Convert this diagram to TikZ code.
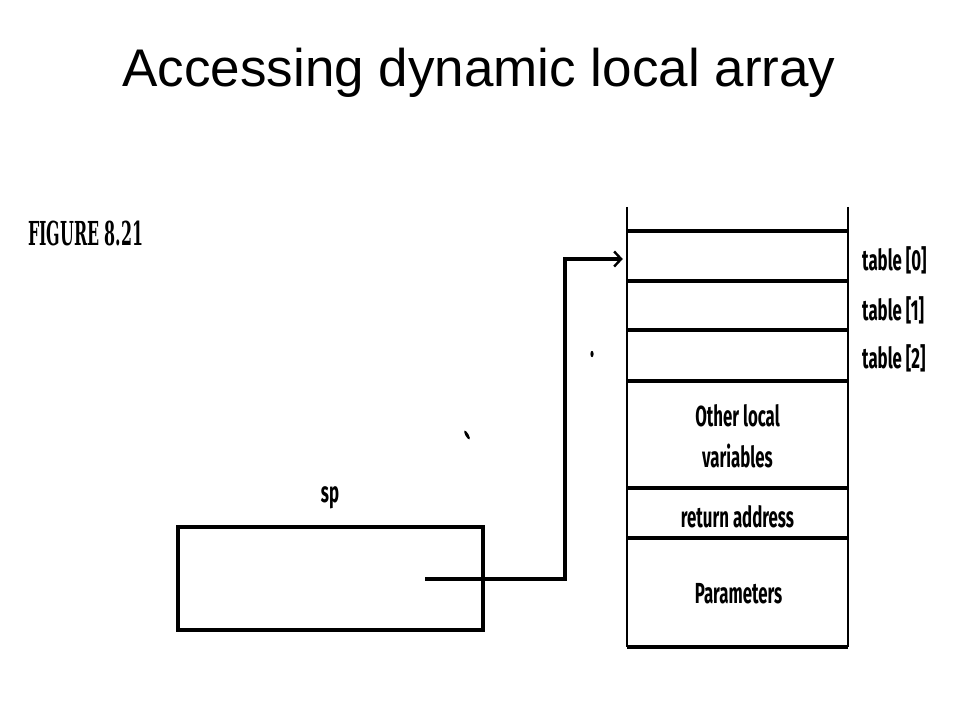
\documentclass[tikz,border=0pt]{standalone}
\usepackage{fontspec}
\setmainfont{Liberation Sans}
\newfontfamily\condfont[FakeStretch=0.58]{Fira Sans}
\newfontfamily\figfont[FakeStretch=0.48]{DejaVu Serif}
\usetikzlibrary{arrows.meta}
\begin{document}
\begin{tikzpicture}[x=1pt,y=-1pt,
  hline/.style={line width=3.8pt},
  vline/.style={line width=2.2pt},
  boxline/.style={draw,line width=3.2pt},
  cell/.style={draw=none,minimum width=221pt,inner sep=0pt},
  lbl/.style={font=\condfont\bfseries\fontsize{29}{34}\selectfont,anchor=base,inner sep=0pt},
  tlbl/.style={lbl,anchor=base west},
  ptr/.style={line width=3.2pt,-{Straight Barb[length=7pt,width=15pt,line width=2.4pt]},shorten >=4pt},
  speck/.style={fill=black,draw=none}]
\useasboundingbox (0,0) rectangle (960,720);
\fill[white] (0,0) rectangle (960,720);
% title
\node[anchor=base,inner sep=0pt,font=\fontsize{53}{60}\selectfont] (title) at (479,86) {Accessing dynamic local array};
% figure label
\node[anchor=base west,inner sep=0pt,font=\figfont\bfseries\fontsize{33}{36}\selectfont] (fig) at (28,245) {FIGURE 8.21};
% stack cells
\node[cell,minimum height=24pt] (top) at (737.5,219) {};
\node[cell,minimum height=50pt] (t0) at (737.5,256) {};
\node[cell,minimum height=49pt] (t1) at (737.5,305.5) {};
\node[cell,minimum height=51pt] (t2) at (737.5,355.5) {};
\node[cell,minimum height=107pt] (other) at (737.5,434.5) {};
\node[cell,minimum height=50pt] (ret) at (737.5,513) {};
\node[cell,minimum height=109pt] (par) at (737.5,592.5) {};
% stack lines
\draw[vline] (top.north west) -- (par.south west);
\draw[vline] (top.north east) -- (par.south east);
\foreach \c in {t0,t1,t2,other,ret,par}{
  \draw[hline] (\c.north west) -- (\c.north east);
}
\draw[hline] (par.south west) -- (par.south east);
% cell texts
\node[lbl] (otherA) at (737.5,426) {Other local};
\node[lbl] (otherB) at (737.5,467) {variables};
\node[lbl] (rettxt) at (737.5,527) {return address};
\node[lbl] (partxt) at (738.5,603) {Parameters};
% table labels
\node[tlbl] (l0) at (862,270) {table [0]};
\node[tlbl] (l1) at (862,320) {table [1]};
\node[tlbl] (l2) at (862,368) {table [2]};
% sp box
\node[boxline,minimum width=305pt,minimum height=103pt,inner sep=0pt] (spbox) at (330.5,578.5) {};
\node[lbl] (sp) at (330,502) {sp};
\coordinate (spstart) at (425,579);
\coordinate (bend) at (565,579);
\draw[ptr] (spstart) -- (bend) |- ([yshift=-3pt]t0.west);
% specks from the scan
\fill[speck] (592,354) ellipse (1.6pt and 3.2pt);
\fill[speck,rotate around={30:(467,435)}] (467,435) ellipse (1.6pt and 5pt);
\end{tikzpicture}
\end{document}
